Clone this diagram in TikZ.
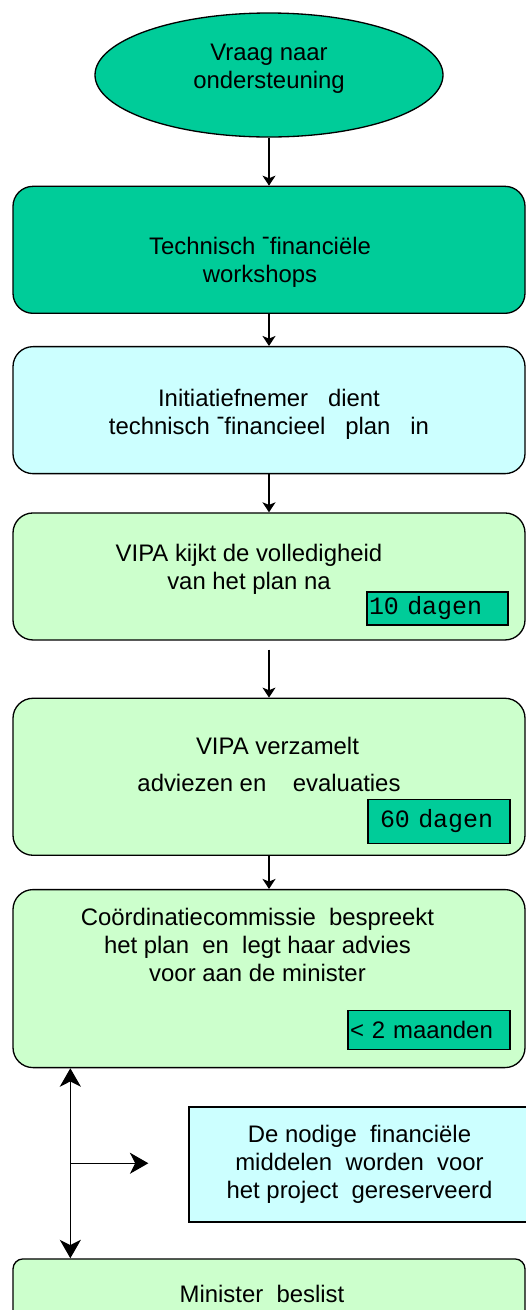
\documentclass[tikz,border=0pt]{standalone}
\usepackage{fontspec}
\setmainfont{Liberation Sans}
\setmonofont{Liberation Mono}
\usetikzlibrary{arrows.meta,positioning,shapes.geometric}
\newcommand{\flowfont}{\fontsize{13.6}{16}\selectfont}
\newcommand{\durfont}{\fontsize{14.2}{16}\selectfont\ttfamily}
\newcommand{\updash}{\raisebox{0.42em}{-}}
\definecolor{dkgreen}{HTML}{00CC99}
\definecolor{ltcyan}{HTML}{CCFFFF}
\definecolor{ltgreen}{HTML}{CCFFCC}
\tikzset{
    rb/.style={ % rounded flow box
        rectangle,
        rounded corners=0.4cm,
        draw=black,
        line width=0.75pt,
        minimum width=10.24cm,
        inner sep=0pt
        },
    rbd/.style={ % dark green
        rb,
        fill=dkgreen
        },
    rbc/.style={ % light cyan
        rb,
        fill=ltcyan
        },
    rbg/.style={ % light green
        rb,
        fill=ltgreen
        },
    el/.style={ % start ellipse
        ellipse,
        draw=black,
        line width=0.75pt,
        fill=dkgreen,
        minimum width=6.96cm,
        minimum height=2.48cm,
        inner sep=0pt
        },
    rr/.style={ % square box
        rectangle,
        draw=black,
        line width=0.75pt,
        fill=ltcyan,
        align=center,
        font=\flowfont,
        inner sep=0pt
        },
    txt/.style={
        align=center,
        inner sep=0pt,
        font=\flowfont
        },
    tagbox/.style={ % duration box
        rectangle,
        draw=black,
        line width=0.75pt,
        fill=dkgreen,
        inner ysep=0pt,
        align=left,
        font=\flowfont
        },
    arrout/.style={
        -{Stealth[length=5.7pt,width=7.4pt,inset=1.5pt]},
        line width=0.75pt
        },
    arrbig/.style={
        -{Stealth[length=10.5pt,width=12pt,inset=3pt]},
        line width=0.75pt
        },
    arrb/.style={
        {Stealth[length=10.5pt,width=12pt,inset=3pt]}-{Stealth[length=10.5pt,width=12pt,inset=3pt]},
        line width=0.75pt
        }
}
\begin{document}
\begin{tikzpicture}
		\useasboundingbox (0,0) rectangle (10.52,-26.2);
		
		%%%%% node ell
		\node[el] (ell) at (5.38,-1.5) {};
		\node[txt] (t0) at ([yshift=0.12cm]ell.center) {Vraag naar\\ondersteuning};
		
		%%%%% node b1
		\node[rbd,below=0.96cm of ell,minimum height=2.54cm] (b1) {};
		\node[txt] (t1) at ([xshift=-0.18cm,yshift=-0.25cm]b1.center)
			{Technisch \updash{}financiële\\workshops};
		
		%%%%% node b2
		\node[rbc,below=0.64cm of b1,minimum height=2.54cm] (b2) {};
		\node[txt] (t2) at ([yshift=-0.08cm]b2.center)
			{Initiatiefnemer~~~dient\\technisch \updash{}financieel~~~plan~~~in};
		
		%%%%% node b3
		\node[rbg,below=0.76cm of b2,minimum height=2.54cm] (b3) {};
		\node[txt] (t3) at ([xshift=-0.4cm,yshift=0.15cm]b3.center)
			{VIPA kijkt de volledigheid\\van het plan na};
		\node[tagbox,anchor=south east,minimum width=2.82cm,minimum height=0.66cm,
			inner xsep=0.04cm,text width=2.74cm,font=\durfont] (d3)
			at ([xshift=-0.34cm,yshift=0.3cm]b3.south east) {10 dagen};
		
		%%%%% node b4
		\node[rbg,below=1.14cm of b3,minimum height=3.14cm] (b4) {};
		\node[txt] (t4) at ([yshift=0.24cm]b4.center)
			{\hspace*{0.34cm}VIPA verzamelt\\[5pt]adviezen en~~~~evaluaties};
		\node[tagbox,anchor=south east,minimum width=2.84cm,minimum height=0.88cm,
			inner xsep=0.24cm,text width=2.36cm,font=\durfont] (d4)
			at ([xshift=-0.3cm,yshift=0.24cm]b4.south east) {60 dagen};
		
		%%%%% node b5
		\node[rbg,below=0.66cm of b4,minimum height=3.56cm] (b5) {};
		\node[txt] (t5) at ([xshift=-0.23cm,yshift=0.67cm]b5.center)
			{Coördinatiecommissie~~bespreekt\\het plan~~en~~legt haar advies\\voor aan de minister};
		\node[tagbox,anchor=south east,minimum width=3.24cm,minimum height=0.78cm,
			inner xsep=0.04cm,text width=3.16cm] (d5)
			at ([xshift=-0.3cm,yshift=0.36cm]b5.south east) {< 2 maanden};
		
		%%%%% node b7
		\node[rbg,rounded corners=0.2cm,below=3.8cm of b5,minimum height=2cm] (b7) {};
		\node[txt] (t7) at ([xshift=-0.14cm,yshift=-0.72cm]b7.north) {Minister~~beslist};
		
		%%%%% node b6
		\node[rr,anchor=north west,minimum width=6.82cm,minimum height=2.3cm] (b6)
			at ([xshift=3.52cm,yshift=-0.76cm]b5.south west)
			{De nodige~~financiële\\middelen~~worden~~voor\\het project~~gereserveerd};
		
		%%%%% edges
		\draw[arrout] (ell) -- (b1);
		\draw[arrout] (b1) -- (b2);
		\draw[arrout] (b2) -- (b3);
		\draw[arrout,shorten <=0.18cm] (b3) -- (b4);
		\draw[arrout] (b4) -- (b5);
		
		%%%%% edge b5 - b7
		\coordinate (j) at ([xshift=1.16cm,yshift=-1.9cm]b5.south west);
		\coordinate (jend) at ([xshift=1.56cm]j);
		\draw[arrb] (j |- b5.south) -- (j |- b7.north);
		\draw[arrbig] (j) -- (jend);
\end{tikzpicture}
\end{document}
